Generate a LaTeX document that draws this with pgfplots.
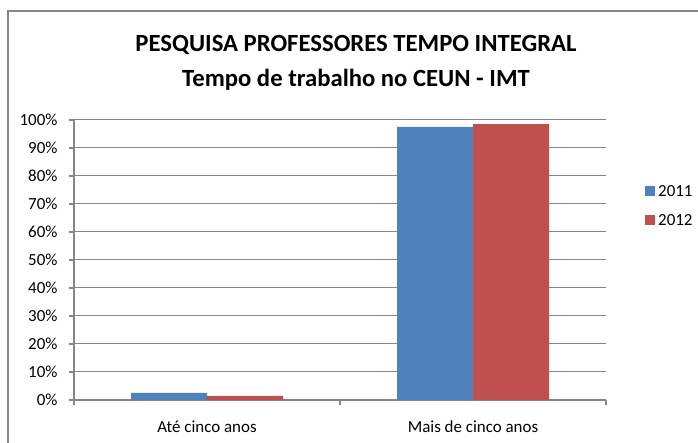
\documentclass[border=0pt]{standalone}
\usepackage{pgfplots}
\pgfplotsset{compat=1.18}
\usepackage{fontspec}
\setmainfont{Carlito}
\definecolor{s2011}{HTML}{4F81BD}
\definecolor{s2012}{HTML}{C0504D}
\definecolor{gridgray}{HTML}{868686}
\begin{document}
\begin{tikzpicture}[x=1bp,y=1bp]
\useasboundingbox (-74,-43) rectangle (624,400);
\draw[gridgray, line width=1.3bp] (-66,-45) -- (-66,389) -- (626,389);
\begin{axis}[
  at={(0,0)}, anchor=south west,
  scale only axis,
  width=532bp, height=280bp,
  ybar=0pt, bar width=76bp,
  xmin=-0.5, xmax=1.5,
  ymin=0, ymax=100,
  xtick={0,1},
  xticklabels={Até cinco anos, Mais de cinco anos},
  minor xtick={-0.5,0.5,1.5},
  major x tick style={draw=none},
  minor x tick style={gridgray, line width=1.3bp},
  ytick={0,10,...,100},
  yticklabel={\pgfmathprintnumber{\tick}\%},
  /pgf/number format/assume math mode=true,
  tick align=outside,
  major tick length=5bp, minor tick length=5bp,
  y tick style={gridgray, line width=1.3bp},
  ymajorgrids,
  grid style={gridgray, line width=1bp},
  axis x line*=bottom, axis y line*=left,
  axis line style={gridgray, line width=1.5bp, -},
  tick label style={font=\fontsize{17}{19}\selectfont, black},
  xticklabel style={yshift=-12bp},
  yticklabel style={xshift=-8bp},
  legend style={draw=none, fill=none, at={(rel axis cs:1,0.775)}, anchor=north west,
    xshift=39bp, inner sep=0pt, font=\fontsize{17}{19}\selectfont,
    row sep=14bp, nodes={inner sep=1bp, text height=12bp, text depth=1bp}},
  legend cell align=left,
  legend image code/.code={\fill[#1] (0bp,-5bp) rectangle (10bp,5bp); \path (0bp,0bp) -- (12bp,0bp);},
  clip=false,
]
\addplot[fill=s2011, draw=none] coordinates {(0,2.5) (1,97.5)};
\addplot[fill=s2012, draw=none] coordinates {(0,1.5) (1,98.5)};
\legend{2011,2012}
\end{axis}
\node[font=\fontsize{24.8}{26}\selectfont\bfseries, anchor=base] at (282,348) {PESQUISA PROFESSORES TEMPO INTEGRAL};
\node[font=\fontsize{24.8}{26}\selectfont\bfseries, anchor=base] at (282,313) {Tempo de trabalho no CEUN - IMT};
\end{tikzpicture}
\end{document}
